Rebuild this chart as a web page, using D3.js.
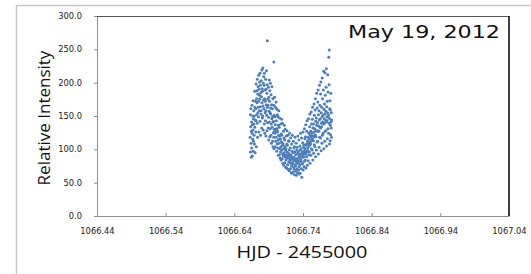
<!DOCTYPE html>
<html>
<head>
<meta charset="utf-8">
<script src="https://cdn.jsdelivr.net/npm/d3@7"></script>
<style>
  body { margin: 0; background: #fff; }
  svg { display: block; }
  .tick text { font-family: "DejaVu Sans", Verdana, sans-serif; font-size: 8.3px; fill: #222; }
</style>
</head>
<body>
<div id="chart"></div>
<script>
var w = 531;
var h = 274;

// axis ticks
var xTicks = [1066.44, 1066.54, 1066.64, 1066.74, 1066.84, 1066.94, 1067.04];
var yTicks = [0, 50, 100, 150, 200, 250, 300];

// light curve points, [HJD - 2455000, relative intensity]
var points = [
  [1066.6630,118],[1066.6633,152],[1066.6635,96],[1066.6638,134],[1066.6641,161],[1066.6644,109],[1066.6647,127],[1066.6649,88],
  [1066.6651,141],[1066.6653,102],[1066.6656,166],[1066.6658,124],[1066.6661,90],[1066.6663,137],[1066.6666,115],[1066.6668,150],
  [1066.6671,129],[1066.6673,173],[1066.6675,97],[1066.6678,146],[1066.6680,112],[1066.6683,158],[1066.6685,138],[1066.6688,121],
  [1066.6690,150],[1066.6693,108],[1066.6695,187],[1066.6698,133],[1066.6700,163],[1066.6703,95],[1066.6705,144],[1066.6708,172],
  [1066.6711,161],[1066.6713,126],[1066.6716,198],[1066.6718,143],[1066.6720,104],[1066.6723,176],[1066.6725,152],[1066.6728,188],
  [1066.6730,170],[1066.6733,139],[1066.6735,205],[1066.6738,118],[1066.6741,183],[1066.6743,155],[1066.6746,194],[1066.6748,163],
  [1066.6751,149],[1066.6753,211],[1066.6756,172],[1066.6758,126],[1066.6761,190],[1066.6763,158],[1066.6766,181],[1066.6768,201],
  [1066.6770,176],[1066.6773,142],[1066.6775,214],[1066.6778,164],[1066.6780,196],[1066.6783,121],[1066.6785,185],[1066.6788,153],
  [1066.6791,158],[1066.6793,203],[1066.6796,179],[1066.6798,132],[1066.6800,219],[1066.6803,170],[1066.6805,191],[1066.6808,147],
  [1066.6810,187],[1066.6813,150],[1066.6815,222],[1066.6818,165],[1066.6820,129],[1066.6823,199],[1066.6825,174],[1066.6828,209],
  [1066.6831,161],[1066.6833,196],[1066.6836,138],[1066.6838,214],[1066.6841,176],[1066.6843,124],[1066.6846,189],[1066.6848,155],
  [1066.6850,172],[1066.6853,143],[1066.6855,205],[1066.6858,158],[1066.6860,120],[1066.6863,190],[1066.6865,167],[1066.6868,218],
  [1066.6871,151],[1066.6873,184],[1066.6876,128],[1066.6878,197],[1066.6880,163],[1066.6881,263],[1066.6884,140],[1066.6887,175],
  [1066.6890,166],[1066.6893,132],[1066.6895,193],[1066.6898,148],[1066.6900,114],[1066.6903,178],[1066.6905,157],[1066.6908,204],
  [1066.6911,141],[1066.6913,172],[1066.6916,119],[1066.6918,188],[1066.6920,155],[1066.6923,131],[1066.6925,199],[1066.6928,162],
  [1066.6930,153],[1066.6933,121],[1066.6935,182],[1066.6938,138],[1066.6940,109],[1066.6943,167],[1066.6945,146],[1066.6948,194],
  [1066.6951,133],[1066.6953,161],[1066.6956,112],[1066.6958,149],[1066.6960,176],[1066.6963,104],[1066.6965,141],[1066.6968,125],
  [1066.6970,142],[1066.6973,118],[1066.6975,231],[1066.6976,166],[1066.6978,101],[1066.6981,151],[1066.6983,130],[1066.6986,178],[1066.6988,127],
  [1066.6990,124],[1066.6993,149],[1066.6995,104],[1066.6998,137],[1066.7000,163],[1066.7003,112],[1066.7005,130],[1066.7008,171],
  [1066.7011,118],[1066.7013,143],[1066.7016,97],[1066.7018,131],[1066.7020,160],[1066.7023,108],[1066.7025,126],[1066.7028,152],
  [1066.7030,127],[1066.7033,102],[1066.7035,149],[1066.7038,114],[1066.7040,91],[1066.7043,136],[1066.7045,121],[1066.7048,158],
  [1066.7051,109],[1066.7053,133],[1066.7056,92],[1066.7058,120],[1066.7060,147],[1066.7063,101],[1066.7065,116],[1066.7068,87],
  [1066.7070,115],[1066.7073,96],[1066.7075,138],[1066.7078,104],[1066.7080,84],[1066.7083,123],[1066.7085,111],[1066.7088,145],
  [1066.7091,99],[1066.7093,121],[1066.7096,86],[1066.7098,110],[1066.7100,139],[1066.7103,93],[1066.7105,106],[1066.7108,79],
  [1066.7110,108],[1066.7113,90],[1066.7115,127],[1066.7118,76],[1066.7120,101],[1066.7123,117],[1066.7125,95],[1066.7128,136],
  [1066.7131,92],[1066.7133,114],[1066.7136,80],[1066.7138,104],[1066.7140,130],[1066.7143,88],[1066.7145,99],[1066.7148,73],
  [1066.7150,101],[1066.7153,84],[1066.7155,120],[1066.7158,91],[1066.7160,72],[1066.7163,108],[1066.7165,96],[1066.7168,128],
  [1066.7171,87],[1066.7173,106],[1066.7176,77],[1066.7178,95],[1066.7180,121],[1066.7183,70],[1066.7185,90],[1066.7188,113],
  [1066.7190,94],[1066.7193,81],[1066.7195,112],[1066.7198,68],[1066.7200,99],[1066.7203,86],[1066.7205,124],[1066.7208,91],
  [1066.7211,83],[1066.7213,102],[1066.7216,71],[1066.7218,92],[1066.7220,117],[1066.7223,79],[1066.7225,88],[1066.7228,65],
  [1066.7230,90],[1066.7233,75],[1066.7235,108],[1066.7238,64],[1066.7240,85],[1066.7243,97],[1066.7245,121],[1066.7248,80],
  [1066.7251,78],[1066.7253,95],[1066.7256,66],[1066.7258,87],[1066.7260,112],[1066.7263,73],[1066.7265,84],[1066.7268,102],
  [1066.7270,88],[1066.7273,70],[1066.7275,104],[1066.7278,62],[1066.7280,83],[1066.7283,96],[1066.7285,118],[1066.7288,77],
  [1066.7291,75],[1066.7293,92],[1066.7296,67],[1066.7298,85],[1066.7300,109],[1066.7303,61],[1066.7305,81],[1066.7308,99],
  [1066.7310,86],[1066.7313,71],[1066.7315,103],[1066.7318,79],[1066.7320,65],[1066.7323,94],[1066.7325,120],[1066.7328,83],
  [1066.7331,80],[1066.7333,97],[1066.7336,69],[1066.7338,88],[1066.7340,114],[1066.7343,74],[1066.7345,91],[1066.7348,63],
  [1066.7350,93],[1066.7353,77],[1066.7355,105],[1066.7358,64],[1066.7360,86],[1066.7363,99],[1066.7365,124],[1066.7368,82],
  [1066.7371,84],[1066.7373,101],[1066.7376,71],[1066.7378,90],[1066.7380,117],[1066.7383,58],[1066.7385,94],[1066.7388,79],
  [1066.7390,96],[1066.7393,78],[1066.7395,110],[1066.7398,88],[1066.7400,126],[1066.7403,69],[1066.7405,93],[1066.7408,103],
  [1066.7411,89],[1066.7413,107],[1066.7416,74],[1066.7418,98],[1066.7420,131],[1066.7423,82],[1066.7425,94],[1066.7428,116],
  [1066.7430,101],[1066.7433,84],[1066.7435,119],[1066.7438,93],[1066.7440,137],[1066.7443,72],[1066.7445,106],[1066.7448,96],
  [1066.7451,108],[1066.7453,89],[1066.7456,127],[1066.7458,97],[1066.7460,143],[1066.7463,76],[1066.7465,112],[1066.7468,102],
  [1066.7470,98],[1066.7473,118],[1066.7475,83],[1066.7478,109],[1066.7480,146],[1066.7483,92],[1066.7485,124],[1066.7488,105],
  [1066.7491,115],[1066.7493,96],[1066.7496,134],[1066.7498,107],[1066.7500,153],[1066.7503,79],[1066.7505,121],[1066.7508,111],
  [1066.7510,108],[1066.7513,127],[1066.7515,91],[1066.7518,119],[1066.7520,156],[1066.7523,101],[1066.7525,138],[1066.7528,114],
  [1066.7531,124],[1066.7533,99],[1066.7536,145],[1066.7538,116],[1066.7540,163],[1066.7543,84],[1066.7545,132],[1066.7548,120],
  [1066.7550,113],[1066.7553,138],[1066.7555,94],[1066.7558,126],[1066.7560,168],[1066.7563,107],[1066.7565,151],[1066.7568,119],
  [1066.7571,131],[1066.7573,104],[1066.7576,159],[1066.7578,122],[1066.7580,176],[1066.7583,89],[1066.7585,142],[1066.7588,128],
  [1066.7590,119],[1066.7593,147],[1066.7595,99],[1066.7598,136],[1066.7600,184],[1066.7603,111],[1066.7605,162],[1066.7608,127],
  [1066.7611,140],[1066.7613,112],[1066.7616,171],[1066.7618,128],[1066.7620,189],[1066.7623,93],[1066.7625,152],[1066.7628,135],
  [1066.7630,127],[1066.7633,158],[1066.7635,103],[1066.7638,144],[1066.7640,196],[1066.7643,118],[1066.7645,166],[1066.7648,133],
  [1066.7651,146],[1066.7653,117],[1066.7656,183],[1066.7658,132],[1066.7660,201],[1066.7663,98],[1066.7665,155],[1066.7668,139],
  [1066.7670,134],[1066.7673,163],[1066.7675,109],[1066.7678,149],[1066.7680,207],[1066.7683,121],[1066.7685,176],[1066.7688,141],
  [1066.7691,151],[1066.7693,124],[1066.7696,189],[1066.7698,138],[1066.7700,217],[1066.7703,101],[1066.7705,160],[1066.7708,146],
  [1066.7710,139],[1066.7713,168],[1066.7715,112],[1066.7718,153],[1066.7720,215],[1066.7723,127],[1066.7725,181],[1066.7728,144],
  [1066.7731,157],[1066.7733,128],[1066.7736,193],[1066.7738,141],[1066.7740,221],[1066.7743,105],[1066.7745,164],[1066.7748,149],
  [1066.7750,143],[1066.7753,172],[1066.7755,116],[1066.7758,155],[1066.7760,212],[1066.7763,131],[1066.7765,186],[1066.7768,148],
  [1066.7771,152],[1066.7773,124],[1066.7776,238],[1066.7778,139],[1066.7780,197],[1066.7782,249],[1066.7785,108],[1066.7788,161],
  [1066.7790,146],[1066.7793,173],[1066.7795,113],[1066.7798,136],[1066.7800,159],[1066.7803,122],[1066.7805,184],[1066.7808,141],
  [1066.7810,132],[1066.7812,155],[1066.7815,118],[1066.7818,144]
];

var svg = d3.select("#chart")
          .append("svg")
          .attr("width", w)
          .attr("height", h);

// outer frame (only left and top show)
svg.append("path")
   .attr("d", "M16.5," + h + "V5.5H" + w)
   .attr("fill", "none")
   .attr("stroke", "#c6c6c6")
   .attr("stroke-width", 1.5);

var x = d3.scaleLinear()
          .domain([1066.44, 1067.04])
          .range([97, 509]);

var y = d3.scaleLinear()
          .domain([0, 300])
          .range([216, 16]);

// x axis, ticks point up into the plot
svg.append("g")
   .attr("transform", "translate(0," + y(0) + ")")
   .call(d3.axisBottom(x)
           .tickValues(xTicks)
           .tickFormat(d3.format(".2f"))
           .tickSizeInner(-3)
           .tickSizeOuter(0)
           .tickPadding(12))
   .call(function(g) {
       g.select(".domain").attr("stroke", "#8e8e8e");
       g.selectAll(".tick line").attr("stroke", "#8e8e8e");
   });

// y axis
svg.append("g")
   .attr("transform", "translate(" + x(1066.44) + ",0)")
   .call(d3.axisLeft(y)
           .tickValues(yTicks)
           .tickFormat(d3.format(".1f"))
           .tickSizeInner(3)
           .tickSizeOuter(0)
           .tickPadding(12))
   .call(function(g) {
       g.select(".domain").attr("stroke", "#8e8e8e");
       g.selectAll(".tick line").attr("stroke", "#8e8e8e");
   });

// top and right edges of the plot box are darker
svg.append("line")
   .attr("x1", x(1066.44)).attr("x2", x(1067.04))
   .attr("y1", y(300) + 0.5).attr("y2", y(300) + 0.5)
   .attr("stroke", "#555");
svg.append("line")
   .attr("x1", x(1067.04)).attr("x2", x(1067.04))
   .attr("y1", y(300)).attr("y2", y(0))
   .attr("stroke", "#111")
   .attr("stroke-width", 1.6);

// points
svg.append("g")
   .selectAll("circle")
   .data(points)
   .enter()
   .append("circle")
   .attr("cx", function(d) { return x(d[0]); })
   .attr("cy", function(d) { return y(d[1]); })
   .attr("r", 1.5)
   .style("fill", "#4a7ebb");

// axis titles
svg.append("text")
   .attr("x", 302)
   .attr("y", 258)
   .attr("text-anchor", "middle")
   .attr("textLength", 131)
   .attr("lengthAdjust", "spacingAndGlyphs")
   .style("font-family", "'Open Sans', sans-serif")
   .style("font-size", "17px")
   .style("fill", "#111")
   .text("HJD - 2455000");

svg.append("text")
   .attr("transform", "translate(50,118) rotate(-90)")
   .attr("text-anchor", "middle")
   .style("font-family", "'Open Sans', sans-serif")
   .style("font-size", "17px")
   .style("fill", "#111")
   .text("Relative Intensity");

// date label
svg.append("text")
   .attr("x", 348)
   .attr("y", 38)
   .attr("textLength", 152)
   .attr("lengthAdjust", "spacingAndGlyphs")
   .style("font-family", "'Comic Sans MS', 'DejaVu Sans', sans-serif")
   .style("font-size", "17px")
   .style("fill", "#111")
   .text("May 19, 2012");
</script>
</body>
</html>
